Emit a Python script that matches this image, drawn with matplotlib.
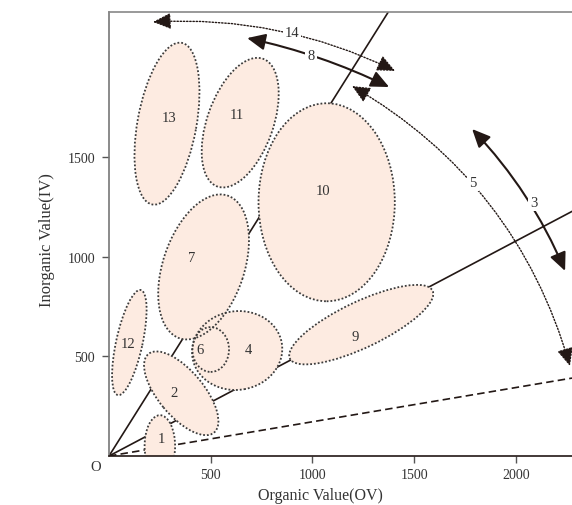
import numpy as np
import matplotlib.pyplot as plt
from matplotlib.patches import Ellipse, FancyArrowPatch

# 領域 (楕円) : 中心 OV/IV, 幅, 高さ, 角度
region_labels = ['1', '2', '12', '6', '4', '7', '13', '11', '10', '9']
region_ov = [250, 355, 100, 500, 630, 465, 285, 645, 1070, 1240]
region_iv = [50, 315, 570, 535, 530, 950, 1670, 1675, 1275, 660]
region_w = [150, 510, 540, 180, 445, 755, 825, 680, 670, 780]
region_h = [310, 225, 130, 225, 395, 400, 290, 325, 995, 230]
region_angle = [0, -51, 78, 0, 10, 72, 80, 71, 0, 26]
text_ov = [260, 320, 93, 447, 683, 408, 295, 629, 1052, 1209]
text_iv = [90, 317, 563, 533, 533, 995, 1703, 1718, 1332, 598]

# 原点からの直線 (IV/OV)
solid_slopes = [1.625, 0.54]
dashed_slope = 0.172

# 矢印
arrow_labels = ['14', '8', '5', '3']
arrow_ov0 = [216, 679, 1195, 1785]
arrow_iv0 = [2181, 2100, 1859, 1643]
arrow_ov1 = [1406, 1377, 2266, 2242]
arrow_iv1 = [1935, 1854, 452, 930]
arrow_text_ov = [900, 993, 1790, 2090]
arrow_text_iv = [2129, 2010, 1372, 1276]
arrow_dotted = [True, False, True, False]
arrow_rad = [-0.13, -0.06, -0.2, -0.09]

plt.rcParams['font.family'] = ['Liberation Serif', 'DejaVu Serif']
ink = '#231815'

fig = plt.figure(figsize=(5.72, 5.06), dpi=100)
ax = fig.add_axes([109 / 572, 49 / 506, 463 / 572, 444 / 506])
ax.set_xlim(0, 2276)
ax.set_ylim(0, 2231)

# 直線
for s in solid_slopes:
    ax.axline((0, 0), slope=s, color=ink, lw=1.2, zorder=1)
ax.axline((0, 0), slope=dashed_slope, color=ink, lw=1.2, ls=(0, (4.5, 2.5)), zorder=1)

# 楕円 (塗り -> 点線の縁)
for i in range(len(region_labels)):
    ax.add_patch(Ellipse((region_ov[i], region_iv[i]), region_w[i], region_h[i],
                         angle=region_angle[i], fc='#fdebe1', ec='none', zorder=2))
for i in range(len(region_labels)):
    ax.add_patch(Ellipse((region_ov[i], region_iv[i]), region_w[i], region_h[i],
                         angle=region_angle[i], fill=False, ec='#3c3c3c',
                         lw=1.3, ls=(0, (1, 1.1)), zorder=3))
    ax.text(text_ov[i], text_iv[i], region_labels[i], ha='center', va='center',
            fontsize=10.5, color='#333333', zorder=4)

# 矢印
for i in range(len(arrow_labels)):
    ls = (0, (1, 1.3)) if arrow_dotted[i] else '-'
    lw = 1.0 if arrow_dotted[i] else 1.5
    arr = FancyArrowPatch((arrow_ov0[i], arrow_iv0[i]), (arrow_ov1[i], arrow_iv1[i]),
                          arrowstyle='<|-|>,head_length=0.55,head_width=0.25',
                          mutation_scale=20, connectionstyle=f'arc3,rad={arrow_rad[i]}',
                          color=ink, lw=lw, ls=ls, shrinkA=0, shrinkB=0,
                          zorder=5, clip_on=False)
    ax.add_patch(arr)
    ax.text(arrow_text_ov[i], arrow_text_iv[i], arrow_labels[i], ha='center', va='center',
            fontsize=10.5, color='#333333', zorder=6,
            bbox=dict(fc='white', ec='none', pad=1.5))

# 軸
ax.spines['right'].set_visible(False)
ax.spines['top'].set_color('#888888')
ax.spines['left'].set_color('#777777')
ax.spines['bottom'].set_color(ink)
for sp in ['top', 'left', 'bottom']:
    ax.spines[sp].set_linewidth(1.2)
ax.set_xticks([500, 1000, 1500, 2000])
ax.set_yticks([500, 1000, 1500])
ax.tick_params(direction='out', length=5, width=1, colors='#555555',
               labelcolor='#333333', labelsize=10)
ax.tick_params(axis='x', pad=4)
ax.tick_params(axis='y', pad=5)

fig.text(320 / 572, 1 - 496 / 506, 'Organic Value(OV)', ha='center', va='center',
         fontsize=11.5, color='#333333')
fig.text(47 / 572, 1 - 240 / 506, 'Inorganic Value(IV)', ha='center', va='center',
         rotation=90, fontsize=12, color='#333333')
fig.text(96 / 572, 1 - 468 / 506, 'O', ha='center', va='center', fontsize=10.5,
         color='#333333')

plt.savefig('out.png', dpi=100)
